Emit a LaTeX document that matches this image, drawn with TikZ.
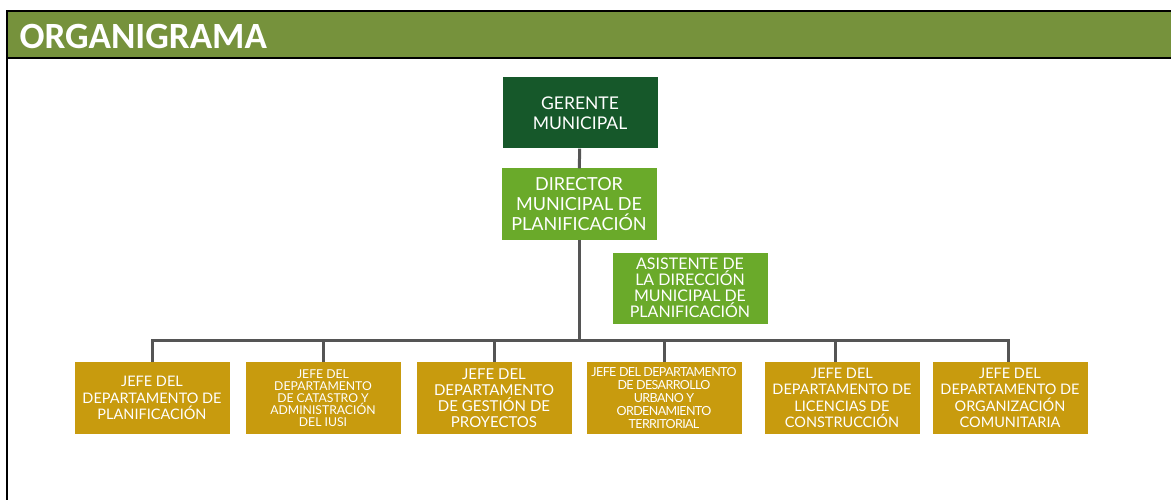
\documentclass[tikz,border=0pt]{standalone}
\usepackage{fontspec}
\setmainfont{Carlito}
\newfontfamily\boxfont{Lato}
\definecolor{headgreen}{RGB}{118,146,60}
\definecolor{darkgreen}{RGB}{22,88,42}
\definecolor{lightgreen}{RGB}{106,170,42}
\definecolor{gold}{RGB}{200,155,14}
\definecolor{linegray}{RGB}{85,85,85}
\tikzset{
  unitbox/.style={minimum width=155pt, minimum height=71pt, inner sep=0pt,
    align=center, text=white, font=\boxfont},
  gerbox/.style={unitbox, fill=darkgreen, font=\boxfont\fontsize{17.5}{20}\selectfont},
  dirbox/.style={unitbox, fill=lightgreen, font=\boxfont\fontsize{18}{20}\selectfont},
  asisbox/.style={unitbox, fill=lightgreen, font=\boxfont\fontsize{16}{16}\selectfont},
  jefebox/.style={unitbox, fill=gold, minimum height=72pt, font=\boxfont\fontsize{14.5}{16.5}\selectfont},
  smalljefe/.style={jefebox, font=\boxfont\fontsize{12.2}{12}\selectfont},
  conn/.style={draw=linegray, line width=3pt}
}

\begin{document}
\begin{tikzpicture}[x=1pt, y=-1pt]
\useasboundingbox (0,0) rectangle (1171,500);

% header band
\fill[headgreen] (7,11) rectangle (1171,58);
\draw[line width=2.5pt] (1171,11) -- (7,11) -- (7,500);
\draw[line width=2.5pt] (7,58) -- (1171,58);
\node[anchor=west, text=white, font=\bfseries\fontsize{37}{40}\selectfont] (title) at (16,36) {ORGANIGRAMA};

% top of the chart
\node[gerbox] (gerente) at (580,113) {GERENTE\\MUNICIPAL};
\node[dirbox] (director) at (579,204) {DIRECTOR\\MUNICIPAL DE\\PLANIFICACIÓN};
\node[asisbox] (asistente) at (690,288) {ASISTENTE DE\\LA DIRECCIÓN\\MUNICIPAL DE\\PLANIFICACIÓN};

% departments
\node[jefebox] (planif) at (152,398) {JEFE DEL\\DEPARTAMENTO DE\\PLANIFICACIÓN};
\node[smalljefe] (catastro) at (323,398) {JEFE DEL\\DEPARTAMENTO\\DE CATASTRO Y\\ADMINISTRACIÓN\\DEL IUSI};
\node[jefebox, font=\boxfont\fontsize{15}{16}\selectfont] (gestion) at (494,398) {JEFE DEL\\DEPARTAMENTO\\DE GESTIÓN DE\\PROYECTOS};
\node[smalljefe, font=\boxfont\fontsize{12.5}{13}\selectfont\addfontfeature{LetterSpace=-5}] (urbano) at (664,398) {JEFE DEL DEPARTAMENTO\\DE DESARROLLO\\URBANO Y\\ORDENAMIENTO\\TERRITORIAL};
\node[jefebox] (licencias) at (842,398) {JEFE DEL\\DEPARTAMENTO DE\\LICENCIAS DE\\CONSTRUCCIÓN};
\node[jefebox] (comunit) at (1010,398) {JEFE DEL\\DEPARTAMENTO DE\\ORGANIZACIÓN\\COMUNITARIA};

% connectors
\coordinate (bus) at (579,340);
\draw[conn] (gerente) -- (director);
\draw[conn] (director) -- (bus);
\draw[conn] (planif.north) |- (bus) -| ([xshift=-2pt]comunit.north);
\foreach \d in {catastro, gestion, urbano}
  \draw[conn] (\d.north) -- (\d.north |- bus);
\draw[conn] ([xshift=-7pt]licencias.north) -- ([xshift=-7pt]licencias.north |- bus);
\end{tikzpicture}
\end{document}
